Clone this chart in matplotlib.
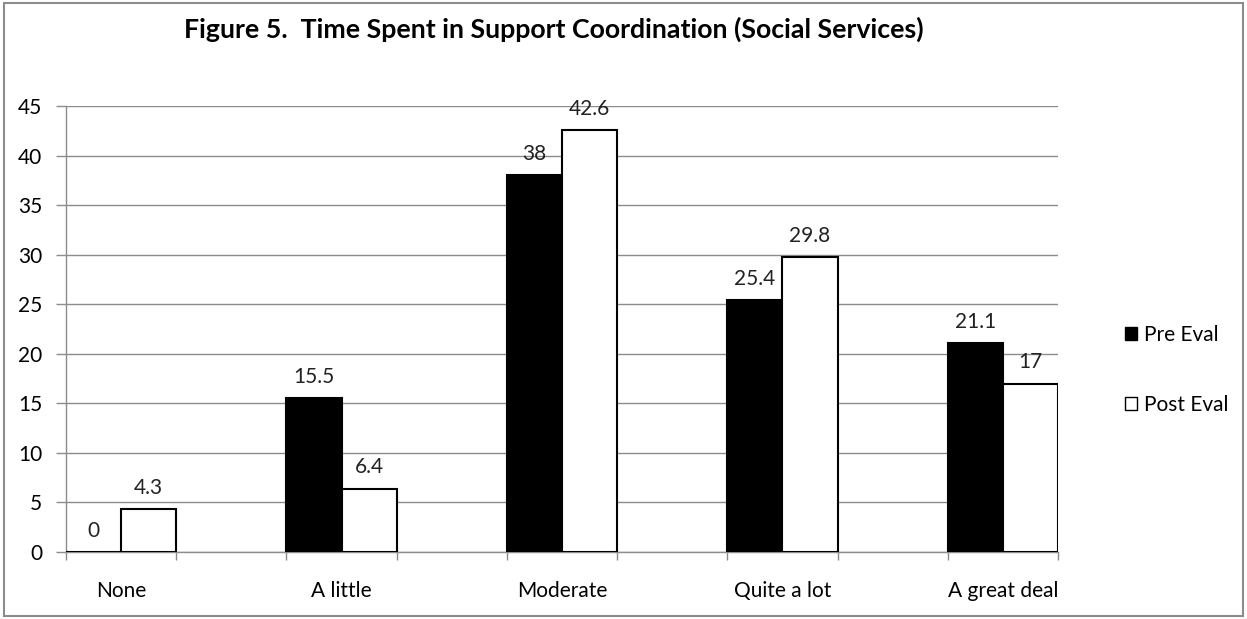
import numpy as np
import matplotlib.pyplot as plt
from matplotlib.patches import Patch, Rectangle

plt.rcParams['font.family'] = ['Lato', 'DejaVu Sans']

categories = ['None', 'A little', 'Moderate', 'Quite a lot', 'A great deal']
pre_eval = [0, 15.5, 38, 25.4, 21.1]
post_eval = [4.3, 6.4, 42.6, 29.8, 17]
series_names = ['Pre Eval', 'Post Eval']
title = 'Figure 5.  Time Spent in Support Coordination (Social Services)'

fig = plt.figure(figsize=(12.47, 6.19), dpi=100)
ax = fig.add_axes([0.0529, 0.1082, 0.7955, 0.7206])

x = np.arange(len(categories))
w = 0.25
grid_c = '#8c8c8c'
fs = 15

b1 = ax.bar(x - w / 2, pre_eval, w, color='black', edgecolor='black', linewidth=1.5, zorder=3)
b2 = ax.bar(x + w / 2, post_eval, w, color='white', edgecolor='black', linewidth=1.5, zorder=3)

for bars, vals in ((b1, pre_eval), (b2, post_eval)):
    for rect, v in zip(bars, vals):
        ax.annotate(f'{v:g}', (rect.get_x() + rect.get_width() / 2, v),
                    xytext=(0, 8), textcoords='offset points',
                    ha='center', va='bottom', fontsize=fs, color='#222222')

ax.set_xlim(-0.25, len(categories) - 0.75)
ax.set_ylim(0, 45)
ax.set_yticks(np.arange(0, 46, 5))
ax.yaxis.grid(True, color=grid_c, linewidth=1)
ax.set_axisbelow(True)

# category labels centred, tick marks at the bar-group edges
ax.set_xticks(x)
ax.set_xticklabels(categories, fontsize=fs)
ax.tick_params(axis='x', which='major', length=0, pad=21)
ax.set_xticks(np.concatenate([x - w, x + w]), minor=True)
ax.tick_params(axis='x', which='minor', length=6, color=grid_c, width=1)
ax.tick_params(axis='y', length=7, color=grid_c, width=1, labelsize=fs, pad=10)

for s in ('top', 'right'):
    ax.spines[s].set_visible(False)
for s in ('left', 'bottom'):
    ax.spines[s].set_color(grid_c)
    ax.spines[s].set_linewidth(1)

handles = [Patch(facecolor='black', edgecolor='black'),
           Patch(facecolor='white', edgecolor='black')]
fig.legend(handles, series_names, loc='center left', bbox_to_anchor=(0.887, 0.402),
           frameon=False, fontsize=fs, handlelength=0.6, handleheight=0.6,
           handletextpad=0.3, labelspacing=2.4)

fig.text(0.444, 0.952, title, ha='center', va='center', fontsize=19.3, fontweight='bold')

fig.add_artist(Rectangle((0.003, 0.005), 0.994, 0.99, transform=fig.transFigure,
                         fill=False, edgecolor='#8c8c8c', linewidth=1.5))

fig.savefig('out.png', dpi=100)
